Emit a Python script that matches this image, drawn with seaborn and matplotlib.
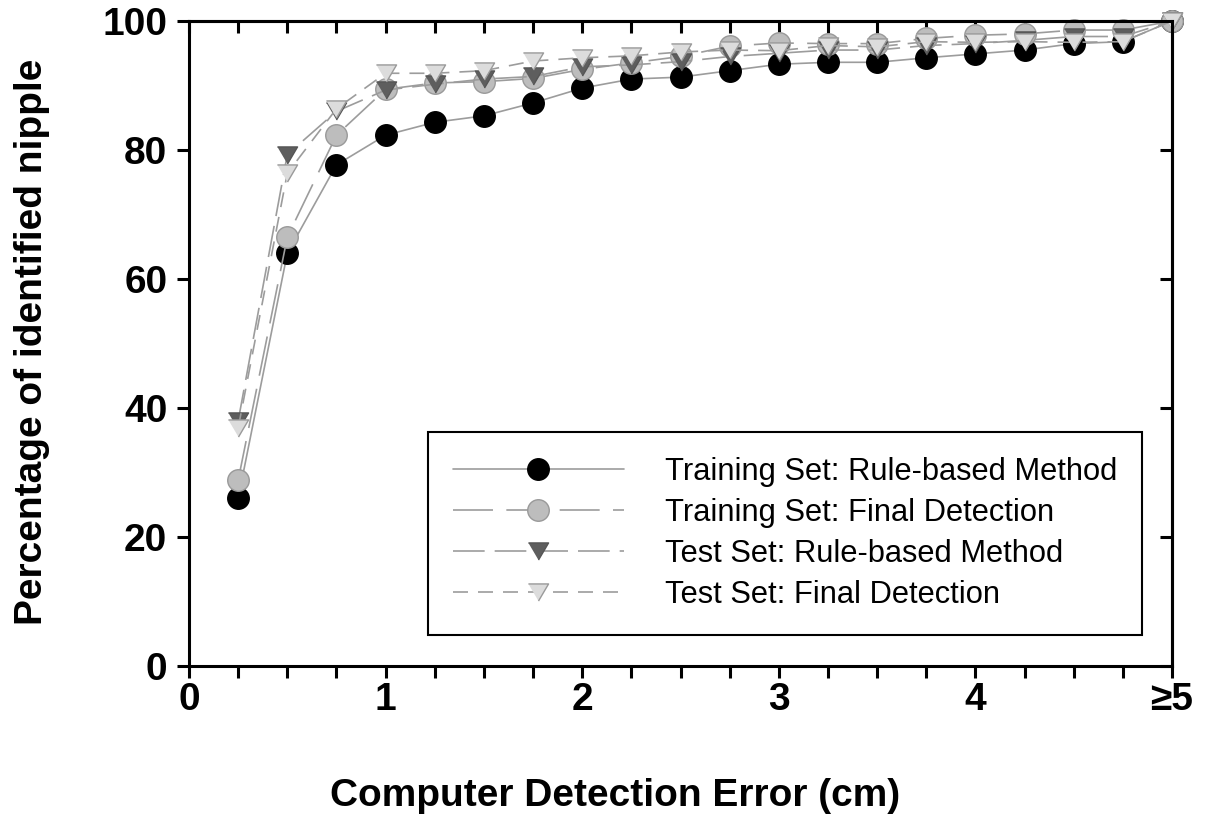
import matplotlib
matplotlib.use("Agg")
import matplotlib.pyplot as plt
from matplotlib.ticker import MultipleLocator
import seaborn as sns

# ---------------- data ----------------
error_cm = [0.25, 0.5, 0.75, 1.0, 1.25, 1.5, 1.75, 2.0, 2.25, 2.5,
            2.75, 3.0, 3.25, 3.5, 3.75, 4.0, 4.25, 4.5, 4.75, 5.0]
train_rule = [26.0, 64.0, 77.7, 82.3, 84.3, 85.3, 87.3, 89.6, 91.0, 91.3,
              92.3, 93.3, 93.6, 93.6, 94.3, 94.9, 95.5, 96.5, 96.8, 100.0]
train_final = [28.8, 66.5, 82.3, 89.4, 90.4, 90.6, 91.1, 92.5, 93.5, 94.5,
               96.1, 96.6, 96.5, 96.5, 97.3, 97.8, 98.0, 98.6, 98.6, 100.0]
test_rule = [38.0, 79.3, 86.0, 89.3, 90.2, 91.0, 91.4, 92.9, 93.2, 93.7,
             94.5, 95.0, 95.5, 95.5, 96.2, 96.5, 97.0, 97.6, 97.6, 100.0]
test_final = [36.9, 76.4, 86.4, 91.9, 91.9, 92.3, 93.8, 94.3, 94.6, 95.2,
              95.5, 95.4, 96.2, 96.0, 96.8, 96.7, 96.8, 96.7, 96.8, 100.0]
series_names = ["Training Set: Rule-based Method",
                "Training Set: Final Detection",
                "Test Set: Rule-based Method",
                "Test Set: Final Detection"]
x_tick_values = [0, 1, 2, 3, 4, 5]
x_tick_labels = ["0", "1", "2", "3", "4", "\u22655"]
y_tick_values = [0, 20, 40, 60, 80, 100]
x_label = "Computer Detection Error (cm)"
y_label = "Percentage of identified nipple"

# ---------------- style ----------------
sns.set_style("ticks")
plt.rcParams['font.family'] = ['Liberation Sans', 'DejaVu Sans']
plt.rcParams['axes.linewidth'] = 2.2
for key in ["text.color", "axes.labelcolor", "xtick.color", "ytick.color",
            "axes.edgecolor"]:
    plt.rcParams[key] = "black"

fig, ax = plt.subplots(figsize=(12.07, 8.18), dpi=100)
fig.subplots_adjust(left=0.1566, right=0.971, bottom=0.1858, top=0.9743)

tri = [(-1.0, 0.85), (1.0, 0.85), (0.0, -0.85)]
line_color = "#9c9c9c"
styles = [
    dict(marker="o", markersize=15.5, markerfacecolor="black",
         markeredgecolor="black", linestyle="-"),
    dict(marker="o", markersize=15.5, markerfacecolor="#bdbdbd",
         markeredgecolor="#999999", linestyle=(0, (24, 8))),
    dict(marker=tri, markersize=14.5, markerfacecolor="#5e5e5e",
         markeredgecolor="#555555", linestyle=(0, (19, 6))),
    dict(marker=tri, markersize=14.5, markerfacecolor="#dcdcdc",
         markeredgecolor="#9a9a9a", linestyle=(0, (9, 6))),
]
all_series = [train_rule, train_final, test_rule, test_final]

for vals, name, st in zip(all_series, series_names, styles):
    sns.lineplot(x=error_cm, y=vals, ax=ax, color=line_color, linewidth=1.2,
                 markeredgewidth=1.0, clip_on=False, label=name, **st)

ax.set_xlim(0, 5)
ax.set_ylim(0, 100)
ax.set_xticks(x_tick_values)
ax.set_xticklabels(x_tick_labels)
ax.xaxis.set_minor_locator(MultipleLocator(0.25))
ax.set_yticks(y_tick_values)
ax.tick_params(axis="both", which="both", direction="out", length=8.6,
               width=2.2, labelsize=28, color="black", labelcolor="black")
ax.tick_params(axis="x", pad=3)
ax.tick_params(axis="y", pad=7)
for lab in ax.get_xticklabels() + ax.get_yticklabels():
    lab.set_fontweight("bold")

# top and right ticks point inwards
top = ax.secondary_xaxis("top")
top.xaxis.set_major_locator(MultipleLocator(0.25))
top.tick_params(direction="in", length=8.6, width=2.2, labeltop=False,
                color="black")
right = ax.secondary_yaxis("right")
right.set_yticks(y_tick_values)
right.tick_params(direction="in", length=8.6, width=2.2, labelright=False,
                  color="black")
for sec in (top, right):
    for sp in sec.spines.values():
        sp.set_linewidth(2.2)
        sp.set_color("black")

for sp in ax.spines.values():
    sp.set_visible(True)
    sp.set_linewidth(2.2)
    sp.set_color("black")

ax.set_xlabel(x_label, fontsize=28, fontweight="bold", color="black")
ax.set_ylabel(y_label, fontsize=28, fontweight="bold", color="black")
ax.xaxis.set_label_coords(0.4334, -0.174)
ax.yaxis.set_label_coords(-0.141, 0.502)

handles, labels = ax.get_legend_handles_labels()
leg = ax.legend(handles, labels, loc="upper left",
                bbox_to_anchor=(0.2431, 0.3628), borderaxespad=0,
                fontsize=22.2, handlelength=5.55, handletextpad=1.35,
                borderpad=0.8, labelspacing=0.36, frameon=True,
                fancybox=False, framealpha=1)
leg.get_frame().set_edgecolor("black")
leg.get_frame().set_linewidth(1.5)
for t in leg.get_texts():
    t.set_color("black")

fig.savefig("out.png", dpi=100)
